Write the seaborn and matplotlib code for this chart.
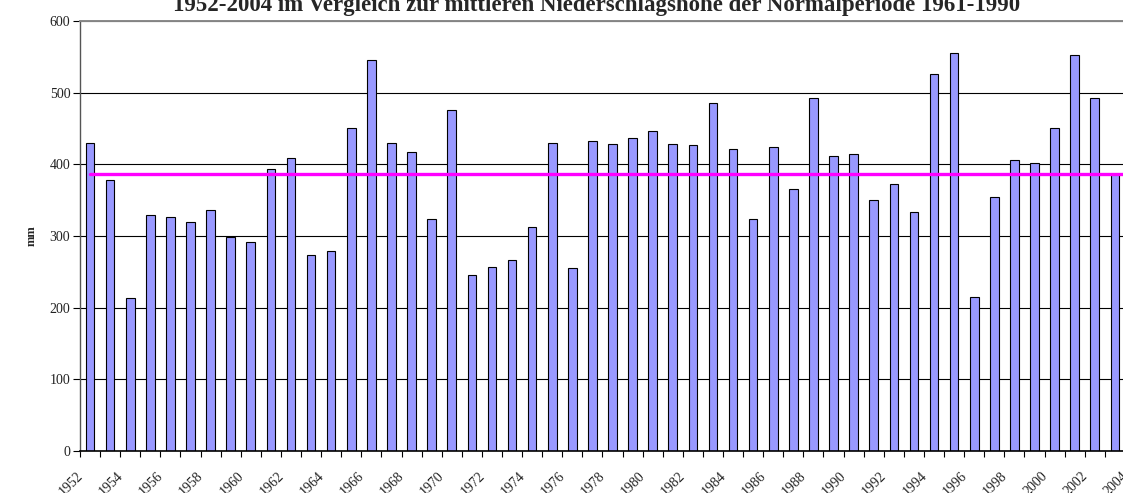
# Jahresniederschlag 1952-2004 vs. Mittel der Normalperiode 1961-1990
import pandas as pd
import numpy as np
import seaborn as sns
import matplotlib
import matplotlib.pyplot as plt
from matplotlib.transforms import ScaledTranslation

matplotlib.use("Agg")

years = list(range(1952, 2005))
rain_mm = [430, 378, 214, 329, 327, 319, 336, 299, 292, 393,
           409, 274, 279, 451, 545, 430, 417, 324, 476, 245,
           257, 267, 312, 430, 255, 432, 429, 437, 446, 429,
           427, 485, 421, 324, 424, 366, 493, 412, 414, 350,
           372, 333, 526, 555, 215, 354, 406, 402, 451, 552,
           492, 386, 420]
normal_mean = 387
y_ticks = [0, 100, 200, 300, 400, 500, 600]
tick_years = [str(y) for y in years[::2]]
title = "1952-2004 im Vergleich zur mittleren Niederschlagshöhe der Normalperiode 1961-1990"

sns.set_style("white")
plt.rcParams['font.family'] = ['Liberation Serif', 'DejaVu Serif']

fig = plt.figure(figsize=(11.23, 4.93), dpi=100)
# plot area runs past the right edge (picture is cropped there)
ax = fig.add_axes([80/1123, 42/493, 1065/1123, 430/493])

df = pd.DataFrame({"Jahr": [str(y) for y in years], "mm": rain_mm})
sns.barplot(data=df, x="Jahr", y="mm", color="#9999FF", saturation=1,
            width=0.43, edgecolor="black", linewidth=0.8, ax=ax, zorder=2)

# mean of the normal period as a line across all categories
n = len(years)
ax.plot(np.arange(n), [normal_mean] * n, color="#FF00FF", lw=2.4, zorder=3)

ax.set_xlim(-0.5, n - 0.5)
ax.set_ylim(0, 600)
ax.set_yticks(y_ticks)
ax.set_axisbelow(True)
ax.yaxis.grid(True, color="black", lw=0.8)

# labels every 2nd year, tick marks at every category boundary
ax.set_xticks(np.arange(0, n, 2))
ax.set_xticklabels(tick_years)
ax.set_xticks(np.arange(n + 1) - 0.5, minor=True)
ax.tick_params(axis="x", which="major", length=0, pad=18, labelsize=10, labelcolor="#222222")
ax.tick_params(axis="x", which="minor", length=4, width=0.8, color="black", direction="out")
ax.tick_params(axis="y", length=5, width=0.8, color="black", direction="out",
               pad=2, labelsize=10, labelcolor="#222222")
ax.tick_params(left=True, bottom=True, which="both")

shift = ScaledTranslation(-5/72, 0, fig.dpi_scale_trans)
for lbl in ax.get_xticklabels():
    lbl.set_rotation(45)
    lbl.set_ha("right")
    lbl.set_va("baseline")
    lbl.set_rotation_mode("anchor")
    lbl.set_transform(lbl.get_transform() + shift)

ax.set_xlabel("")
ax.set_ylabel("mm", fontsize=9, fontweight="bold")
ax.yaxis.set_label_coords((38 - 80) / 1065, 0.5)

ax.spines["left"].set_color("#555555")
ax.spines["left"].set_linewidth(1.0)
ax.spines["bottom"].set_color("black")
ax.spines["bottom"].set_linewidth(1.2)
ax.spines["top"].set_color("#888888")
ax.spines["top"].set_linewidth(1.4)
ax.spines["right"].set_color("#888888")

fig.text(0.531, 1 - 11.5/493, title, ha="center", va="baseline",
         fontsize=16.5, fontweight="bold")

fig.savefig("out.png", dpi=100)
